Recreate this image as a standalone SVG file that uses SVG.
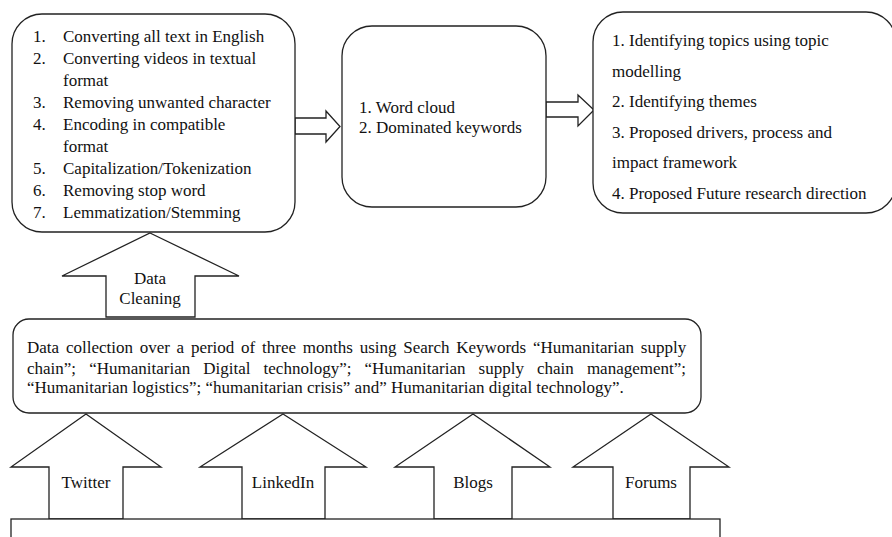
<svg xmlns="http://www.w3.org/2000/svg" width="892" height="537" viewBox="0 0 892 537" font-family="Liberation Serif, Times New Roman, serif" font-size="17">
<style>
.box{fill:#fff;stroke:#222;stroke-width:1.3}
.arr{fill:#fff;stroke:#222;stroke-width:1.3;stroke-linejoin:miter}
.t{fill:#111}
.c{text-anchor:middle}
</style>
<rect width="892" height="537" fill="#fff"/>
<g id="connectors">
  <polygon class="arr" points="295,118 326,118 326,111 340,126.5 326,142 326,134 295,134"/>
  <polygon class="arr" points="546,102 578,102 578,95 594,110 578,126 578,117 546,117"/>
  <polygon class="arr" points="150,233 239,276 195,276 195,317 106,317 106,276 62,276"/>
  <polygon class="arr" points="86,414 161,467 123,467 123,519 49,519 49,467 11,467"/>
  <polygon class="arr" points="283,414 366,467 325,467 325,519 242,519 242,467 200,467"/>
  <polygon class="arr" points="473,414 550,467 512,467 512,519 434,519 434,467 395,467"/>
  <polygon class="arr" points="651,414 729,467 690,467 690,519 613,519 613,467 573,467"/>
</g>
<g id="preprocessing" class="t">
  <rect class="box" x="12" y="14" width="283" height="218" rx="30"/>
  <text x="33" y="42">1.</text><text x="63" y="42">Converting all text in English</text>
  <text x="33" y="64">2.</text><text x="63" y="64">Converting videos in textual</text>
  <text x="63" y="86">format</text>
  <text x="33" y="108">3.</text><text x="63" y="108">Removing unwanted character</text>
  <text x="33" y="130">4.</text><text x="63" y="130">Encoding in compatible</text>
  <text x="63" y="152">format</text>
  <text x="33" y="174">5.</text><text x="63" y="174">Capitalization/Tokenization</text>
  <text x="33" y="196">6.</text><text x="63" y="196">Removing stop word</text>
  <text x="33" y="218">7.</text><text x="63" y="218">Lemmatization/Stemming</text>
</g>
<g id="wordcloud" class="t">
  <rect class="box" x="342" y="26" width="204" height="181" rx="30"/>
  <text x="359" y="113">1. Word cloud</text>
  <text x="359" y="133">2. Dominated keywords</text>
</g>
<g id="topics" class="t">
  <rect class="box" x="593" y="12" width="303" height="201" rx="30"/>
  <text x="612" y="46">1. Identifying topics using topic</text>
  <text x="612" y="76.5">modelling</text>
  <text x="612" y="107">2. Identifying themes</text>
  <text x="612" y="137.5">3. Proposed drivers, process and</text>
  <text x="612" y="168">impact framework</text>
  <text x="612" y="198.5">4. Proposed Future research direction</text>
</g>
<g id="data-cleaning" class="t">
  <text class="c" x="150" y="284">Data</text>
  <text class="c" x="150" y="304">Cleaning</text>
</g>
<g id="data-collection" class="t">
  <rect class="box" x="13" y="319" width="688" height="94" rx="16"/>
  <text y="353"><tspan x="27">Data</tspan><tspan x="65.9">collection</tspan><tspan x="139.7">over</tspan><tspan x="176.6">a</tspan><tspan x="190.9">period</tspan><tspan x="241.1">of</tspan><tspan x="262.1">three</tspan><tspan x="302.8">months</tspan><tspan x="359.7">using</tspan><tspan x="403.3">Search</tspan><tspan x="456.3">Keywords</tspan><tspan x="533">“Humanitarian</tspan><tspan x="640.8">supply</tspan></text>
  <text y="374"><tspan x="27">chain”;</tspan><tspan x="89.2">“Humanitarian</tspan><tspan x="203.3">Digital</tspan><tspan x="263.6">technology”;</tspan><tspan x="364.5">“Humanitarian</tspan><tspan x="478.6">supply</tspan><tspan x="537">chain</tspan><tspan x="586.9">management”;</tspan></text>
  <text x="27" y="393">“Humanitarian logistics”; “humanitarian crisis” and” Humanitarian digital technology”.</text>
</g>
<g id="sources" class="t">
  <rect class="box" x="11" y="519" width="709" height="40"/>
  <text class="c" x="86" y="488">Twitter</text>
  <text class="c" x="283" y="488">LinkedIn</text>
  <text class="c" x="473" y="488">Blogs</text>
  <text class="c" x="651" y="488">Forums</text>
</g>
</svg>
